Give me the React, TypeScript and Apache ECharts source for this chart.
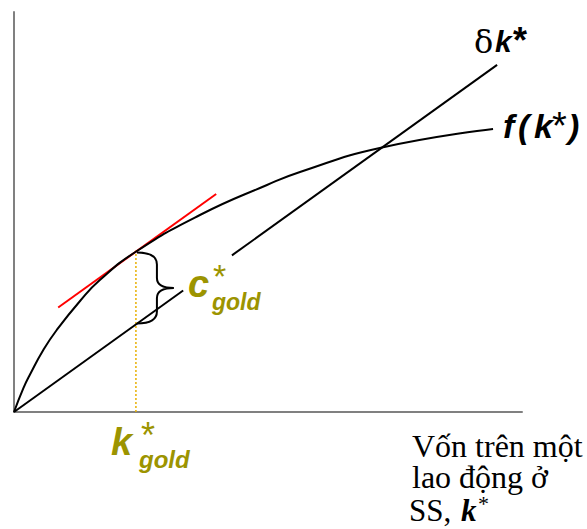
import React, { useEffect, useRef } from "react";
import * as echarts from "echarts";

// Production function f(k) (arbitrary units)
const kValues = [0, 1.83, 3.15, 5.77, 8.41, 13.0, 16.9, 24.2, 36.6, 49.8, 56.3, 72.0, 94.3];
const fValues = [0, 4.74, 7.5, 12.4, 16.4, 22.2, 26.4, 32.2, 39.4, 45.4, 48.0, 52.8, 56.6];

// Depreciation line δk, drawn in two pieces (gap behind the c*gold label)
const delta = 0.73;
const deltaLowerK = [0, 33.3];
const deltaUpperK = [42.9, 95.1];

// Golden-rule point and tangent
const kGold = 24.0;
const fGold = 32.3;
const tangentK = [8.7, 39.8];
const tangentY = [20.9, 43.6];

const axisMax = { x: 100, y: 80 };

const OLIVE = "#9c9400";
const SANS = "Liberation Sans, Arial, sans-serif";
const SERIF = "Liberation Serif, Times New Roman, serif";

export default function App() {
  const ref = useRef<HTMLDivElement>(null);
  useEffect(() => {
    if (!ref.current) return;
    const chart = echarts.init(ref.current, null, { renderer: "svg" });
    const fData = kValues.map((k, i) => [k, fValues[i]]);
    const lower = deltaLowerK.map((k) => [k, +(delta * k).toFixed(2)]);
    const upper = deltaUpperK.map((k) => [k, +(delta * k).toFixed(2)]);
    const tangent = tangentK.map((k, i) => [k, tangentY[i]]);
    const dGold = +(delta * kGold).toFixed(2);

    const txt = (
      text: string,
      x: number,
      y: number,
      size: number,
      opts: any = {}
    ) => ({
      type: "text",
      x,
      y,
      silent: true,
      style: {
        text,
        fontSize: size,
        lineHeight: opts.lh || Math.round(size * 0.75),
        fontFamily: opts.family || SANS,
        fontWeight: opts.weight || "normal",
        fontStyle: opts.style || "normal",
        fill: opts.color || "#000",
        align: "left",
        verticalAlign: "middle",
      },
    });

    const bi = { weight: "bold", style: "italic" };
    const biO = { weight: "bold", style: "italic", color: OLIVE };

    chart.setOption({
      animation: false,
      grid: { left: 14, top: 12, width: 508, height: 400 },
      xAxis: {
        type: "value",
        min: 0,
        max: axisMax.x,
        axisLine: { show: true, lineStyle: { color: "#808080", width: 2 } },
        axisTick: { show: false },
        axisLabel: { show: false },
        splitLine: { show: false },
      },
      yAxis: {
        type: "value",
        min: 0,
        max: axisMax.y,
        axisLine: { show: true, lineStyle: { color: "#808080", width: 2 } },
        axisTick: { show: false },
        axisLabel: { show: false },
        splitLine: { show: false },
      },
      series: [
        {
          type: "line",
          data: [[kGold, 0], [kGold, fGold]],
          showSymbol: false,
          lineStyle: { color: "#e8b000", width: 1.5, type: [2, 2] },
          z: 1,
        },
        {
          type: "line",
          data: fData,
          smooth: 0.5,
          showSymbol: false,
          lineStyle: { color: "#000", width: 2 },
          z: 3,
        },
        {
          type: "line",
          data: lower,
          showSymbol: false,
          lineStyle: { color: "#000", width: 2 },
          z: 3,
        },
        {
          type: "line",
          data: upper,
          showSymbol: false,
          lineStyle: { color: "#000", width: 2 },
          z: 3,
        },
        {
          type: "line",
          data: tangent,
          showSymbol: false,
          lineStyle: { color: "#ff0000", width: 2 },
          z: 2,
        },
        {
          type: "custom",
          data: [[kGold, fGold, dGold]],
          encode: { x: 0, y: 1 },
          z: 4,
          renderItem: (params: any, api: any) => {
            const top = api.coord([api.value(0), api.value(1)]);
            const bot = api.coord([api.value(0), api.value(2)]);
            const x0 = top[0] + 1;
            const yT = top[1] + 2;
            const yB = bot[1] - 1;
            const mid = (yT + yB) / 2;
            const q = 20;
            const w = 37;
            const r = 10;
            const d =
              `M${x0},${yT} Q${x0 + q},${yT} ${x0 + q},${yT + q * 0.6} ` +
              `L${x0 + q},${mid - r} Q${x0 + q},${mid} ${x0 + w},${mid} ` +
              `Q${x0 + q},${mid} ${x0 + q},${mid + r} ` +
              `L${x0 + q},${yB - q * 0.6} Q${x0 + q},${yB} ${x0},${yB}`;
            return {
              type: "path",
              shape: { pathData: d },
              style: { fill: "none", stroke: "#000", lineWidth: 2 },
            };
          },
        },
      ],
      graphic: [
        txt("δ", 474, 42, 32, { family: "DejaVu Serif" }),
        txt("k", 495, 41, 30, bi),
        txt("*", 513, 40, 36, { weight: "bold", lh: 14 }),
        txt("f", 503, 126, 34, bi),
        txt("(", 518, 126, 34, bi),
        txt("k", 534, 126, 34, bi),
        txt("*", 552, 126, 38, { lh: 14 }),
        txt(")", 568, 126, 34, bi),
        txt("c", 188, 284, 38, biO),
        txt("*", 213, 276, 34, { color: OLIVE, lh: 12 }),
        txt("gold", 212, 302, 23, biO, ),
        txt("k", 111, 442, 38, biO),
        txt("*", 141, 435, 36, { color: OLIVE, lh: 12 }),
        txt("gold", 139, 459, 24, biO),
        txt("Vốn trên một", 412, 446, 32, { family: SERIF }),
        txt("lao động ở", 412, 477, 32, { family: SERIF }),
        txt("SS,", 409, 510, 31, { family: SERIF }),
        txt("k", 461, 510, 31, { family: SERIF, weight: "bold", style: "italic" }),
        txt("*", 478, 503, 22, { family: SERIF, lh: 10 }),
      ],
    });
    return () => chart.dispose();
  }, []);
  return (
    <div
      ref={ref}
      style={{ position: "absolute", left: 0, top: 0, width: 587, height: 529 }}
    />
  );
}
